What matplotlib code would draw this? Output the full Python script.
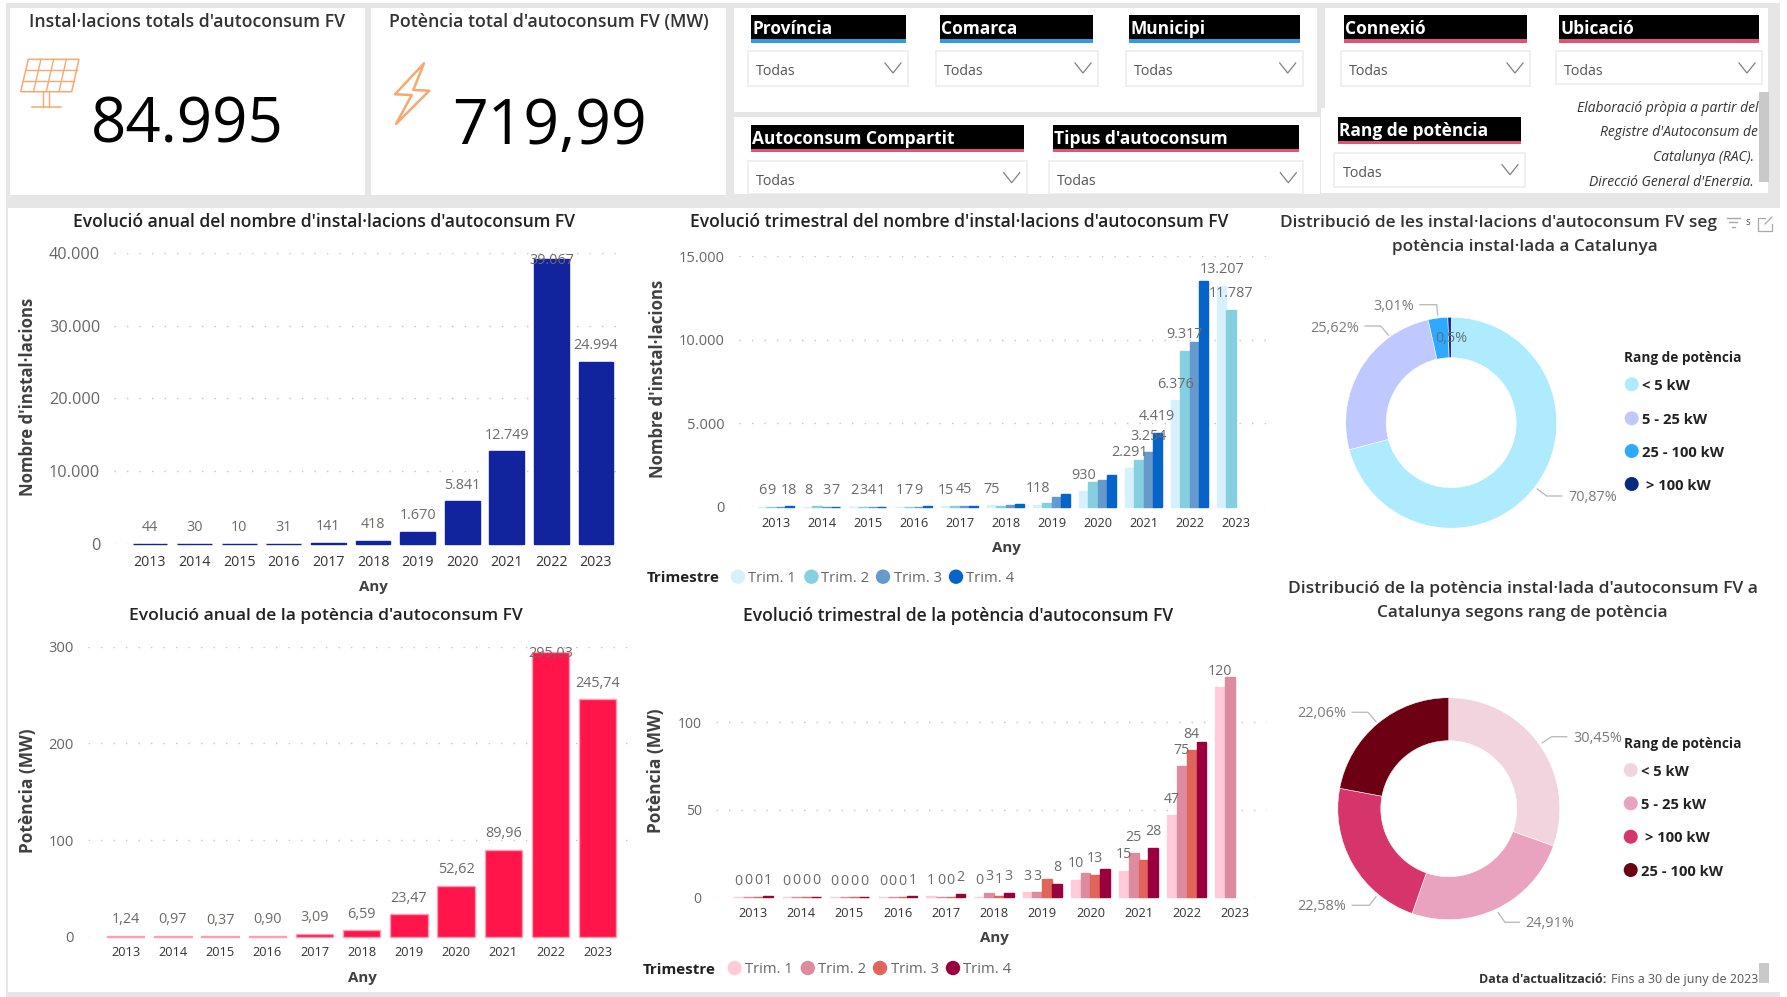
import matplotlib
matplotlib.use("Agg")
import matplotlib.pyplot as plt
import numpy as np
from matplotlib.patches import Rectangle, Circle, Polygon

plt.rcParams['font.family'] = ['Open Sans', 'DejaVu Sans']

W, H = 1787, 997

years = [2013, 2014, 2015, 2016, 2017, 2018, 2019, 2020, 2021, 2022, 2023]

# yearly totals
inst_anual = [44, 30, 10, 31, 141, 418, 1670, 5841, 12749, 39067, 24994]
pot_anual = [1.24, 0.97, 0.37, 0.90, 3.09, 6.59, 23.47, 52.62, 89.96, 295.03, 245.74]

# quarterly numbers, one list per quarter
inst_t1 = [6, 8, 2, 1, 15, 75, 118, 930, 2291, 6376, 13207]
inst_t2 = [9, 12, 3, 7, 36, 60, 230, 1450, 2785, 9317, 11787]
inst_t3 = [11, 3, 4, 9, 45, 113, 570, 1590, 3254, 9880, np.nan]
inst_t4 = [18, 7, 1, 14, 45, 170, 752, 1871, 4419, 13494, np.nan]
# Power BI drops the labels that collide
inst_show = [
    [1, 1, 1, 1, 1, 1, 1, 1, 1, 1, 1],
    [1, 0, 1, 1, 0, 0, 0, 0, 0, 1, 1],
    [0, 1, 1, 1, 1, 0, 0, 0, 1, 0, 0],
    [1, 1, 1, 0, 0, 0, 0, 0, 1, 0, 0],
]

pot_t1 = [0.1, 0.1, 0.1, 0.1, 0.6, 0.4, 2.8, 9.9, 15.3, 47, 120]
pot_t2 = [0.2, 0.2, 0.1, 0.1, 0.3, 2.6, 2.8, 13.9, 25.3, 75, 125.7]
pot_t3 = [0.2, 0.3, 0.1, 0.1, 0.2, 0.9, 10.2, 12.9, 21.1, 84, np.nan]
pot_t4 = [0.7, 0.4, 0.1, 0.6, 2.0, 2.7, 7.7, 15.9, 28.3, 89, np.nan]
pot_show = [
    [1, 1, 1, 1, 1, 1, 1, 1, 1, 1, 1],
    [1, 1, 1, 1, 1, 1, 1, 0, 1, 1, 0],
    [1, 1, 1, 1, 1, 1, 0, 1, 0, 1, 0],
    [1, 1, 1, 1, 1, 1, 1, 0, 1, 0, 0],
]

trimestres = ["Trim. 1", "Trim. 2", "Trim. 3", "Trim. 4"]

# donuts
rang_inst = ["< 5 kW", "5 - 25 kW", "25 - 100 kW", " > 100 kW"]
pct_inst = [70.87, 25.62, 3.01, 0.5]
rang_pot = ["< 5 kW", "5 - 25 kW", " > 100 kW", "25 - 100 kW"]
pct_pot = [30.45, 24.91, 22.58, 22.06]

total_inst = "84.995"
total_pot = "719,99"

BLUE_Q = ["#D6F1FC", "#86CFE0", "#6699CC", "#0563C9"]
RED_Q = ["#FFCBD9", "#DD8BA0", "#E1645A", "#99003D"]
BLUE_D = ["#AEEBFF", "#BFC9FF", "#2FA8FF", "#0A2A7F"]
RED_D = ["#F2D4DE", "#E9A3BF", "#D6356C", "#6E0014"]
GRAY = "#E6E6E6"
LABEL = "#6B6A68"
DARK = "#333333"

fig = plt.figure(figsize=(W / 100, H / 100), dpi=100, facecolor="white")
renderer = fig.canvas.get_renderer()

bg = fig.add_axes([0, 0, 1, 1])
bg.set_xlim(0, W)
bg.set_ylim(H, 0)
bg.axis("off")


def box(x0, y0, x1, y1, color="white", edge="none", lw=0, z=1):
    r = Rectangle((x0, y0), x1 - x0, y1 - y0, facecolor=color, edgecolor=edge, linewidth=lw, zorder=z)
    bg.add_patch(r)
    return r


def fit(t, width):
    # scale the font so the text takes the same width as in the picture
    ext = t.get_window_extent(renderer)
    t.set_fontsize(t.get_fontsize() * width / max(ext.width, ext.height))
    return t


def txt(x, y, s, width=None, size=10, color=DARK, ha="center", va="center", **kw):
    # Open Sans sits a bit high when centred
    t = bg.text(x, y + 1.5, s, fontsize=size, color=color, ha=ha, va=va, zorder=5, **kw)
    if width:
        fit(t, width)
    return t


def px_axes(left, right, top, bottom):
    ax = fig.add_axes([left / W, 1 - bottom / H, (right - left) / W, (bottom - top) / H])
    ax.patch.set_alpha(0)
    for s in ax.spines.values():
        s.set_visible(False)
    return ax


def label_y(ax, v, top_px_margin):
    # label sits 16 px over the bar, but stays inside the plot at the top
    y0, y1 = ax.get_ylim()
    h = ax.get_position().height * H
    unit = (y1 - y0) / h
    return min(v + 16 * unit, y1 - top_px_margin * unit)


def setup_axis(ax, x0, dx, left, right, ymax, yticks, ylabels, ysize, xsize, xpad):
    ax.set_xlim((left - x0) / dx, (right - x0) / dx)
    ax.set_ylim(0, ymax)
    ax.set_yticks(yticks)
    ax.set_yticklabels(ylabels, fontsize=ysize, color="#666666")
    ax.set_xticks(range(len(years)))
    ax.set_xticklabels(years, fontsize=xsize, color=DARK)
    ax.tick_params(axis="both", length=0)
    ax.tick_params(axis="y", pad=10)
    ax.tick_params(axis="x", pad=xpad)
    ax.grid(axis="y", color="#C4C4C4", linewidth=1, linestyle=(0, (1, 8)))
    ax.set_axisbelow(True)


def thousands(v):
    return f"{int(v):,}".replace(",", ".")


def decimals(v):
    return f"{v:.2f}".replace(".", ",")


def chart_anual(ax, vals, color, edge, fmt, width, size, margin):
    ax.bar(range(len(vals)), vals, width=width, color=color, edgecolor=edge, linewidth=1, clip_on=False)
    for i, v in enumerate(vals):
        ax.text(i, label_y(ax, v, margin), fmt(v), fontsize=size, color=LABEL, ha="center", va="center")


def chart_trim(ax, series, show, colors, fmt, width, size):
    for q, vals in enumerate(series):
        xs = np.arange(len(vals)) + (q - 1.5) * width
        ax.bar(xs, vals, width=width, color=colors[q], edgecolor=colors[q], linewidth=1, clip_on=False)
        for i, v in enumerate(vals):
            if show[q][i] and not np.isnan(v):
                ax.text(xs[i], label_y(ax, v, -60), fmt(v), fontsize=size, color=LABEL, ha="center", va="center")


def legend_trim(y, x_title, xm, xt, colors):
    txt(x_title, y, "Trimestre", width=73, color="#222222", ha="left", fontweight="bold")
    for m, t, c, s in zip(xm, xt, colors, trimestres):
        bg.add_patch(Circle((m, y), 7.2, facecolor=c, edgecolor="none", zorder=4))
        txt(t, y, s, width=48, color="#666666", ha="left")


def slicer(x0, x1, y0, y1, name, line, bx0, bx1, by0, by1):
    box(x0, y0, x1, y1, color="black", z=2)
    box(x0, y1 - 3.2, x1, y1, color=line, z=3)
    txt(x0 + 1, (y0 + y1) / 2 - 1, name, size=12.5, color="white", ha="left", fontweight="bold")
    box(bx0, by0, bx1, by1, color="white", edge="#EFEFEF", lw=1.3, z=2)
    ym = by0 + 19
    txt(bx0 + 8, ym, "Todas", size=10.3, color="#555555", ha="left")
    bg.plot([bx1 - 23, bx1 - 15, bx1 - 7], [ym - 7, ym + 3, ym - 7], color="#808080", lw=0.9, zorder=4)


# panels
box(6, 3, 1780, 997, color=GRAY, z=0)
box(10, 8, 364.5, 195)
box(371, 8, 726, 195)
box(734, 8, 1317.4, 112)
box(734, 117, 1320, 194)
box(1325.3, 8, 1768, 193)
box(1321.4, 108, 1768, 193)
box(8, 208, 1780, 992)

# kpi cards
txt(187, 20.5, "Instal·lacions totals d'autoconsum FV", width=314, size=13, color="#333333", fontweight="semibold")
txt(549, 20.5, "Potència total d'autoconsum FV (MW)", width=320, size=13, color="#333333", fontweight="semibold")
txt(187, 125, total_inst, width=193, size=44, color="black")
txt(549.5, 126, total_pot, width=195, size=44, color="black")

ORANGE = "#F7A872"
tl, tr, br, bl = np.array([28.3, 59.3]), np.array([79, 59.3]), np.array([71.7, 91.7]), np.array([20.7, 91.7])
bg.add_patch(Polygon([tl, tr, br, bl], closed=True, fill=False, edgecolor=ORANGE, lw=1.1, zorder=3))
for f in (0.25, 0.5, 0.75):
    a, b = tl + (tr - tl) * f, bl + (br - bl) * f
    bg.plot([a[0], b[0]], [a[1], b[1]], color=ORANGE, lw=1, zorder=3)
for f in (1 / 3, 2 / 3):
    a, b = tl + (bl - tl) * f, tr + (br - tr) * f
    bg.plot([a[0], b[0]], [a[1], b[1]], color=ORANGE, lw=1, zorder=3)
bg.plot([43.3, 43.3], [91.7, 107.3], color=ORANGE, lw=1, zorder=3)
bg.plot([49.3, 49.3], [91.7, 107.3], color=ORANGE, lw=1, zorder=3)
bg.plot([31.7, 60.7], [107.3, 107.3], color=ORANGE, lw=1.1, zorder=3)
bolt = [(424, 63.3), (395, 94.3), (411.7, 95), (396, 124), (429.3, 90.7), (413.3, 90)]
bg.add_patch(Polygon(bolt, closed=True, fill=False, edgecolor=ORANGE, lw=1.8, joinstyle="round", zorder=3))

# slicers
BL, PK = "#2F9BE0", "#E0527A"
slicer(751, 906, 15, 42.7, "Província", BL, 748, 908, 51, 85.7)
slicer(939.6, 1093.4, 15, 42.7, "Comarca", BL, 935.6, 1098, 51, 85.7)
slicer(1129, 1300, 15, 42.7, "Municipi", BL, 1126, 1302.7, 51, 85.7)
slicer(1344, 1526.7, 15, 42.7, "Connexió", PK, 1340.6, 1530, 51, 85.7)
slicer(1559, 1758.6, 15, 42.7, "Ubicació", PK, 1556, 1762, 51, 84)
slicer(751, 1024, 125, 152, "Autoconsum Compartit", PK, 748, 1026.7, 160.7, 194)
slicer(1052.7, 1298.7, 125, 152, "Tipus d'autoconsum", PK, 1048.8, 1303.3, 160.7, 194)
slicer(1338.4, 1521, 117, 144, "Rang de potència", PK, 1334.4, 1525, 152.7, 187)
box(734, 194, 1323, 197, color=GRAY, z=3)

note = ["Elaboració pròpia a partir del", "Registre d'Autoconsum de", "Catalunya (RAC).", "Direcció General d'Energia."]
note_clip = Rectangle((1540, 90), 225, 96.5, transform=bg.transData)
for s, y, x in zip(note, [107.5, 131.5, 156, 181.2], [1758.6, 1758, 1754, 1754]):
    t = txt(x, y, s, size=10, color="#333333", ha="right", fontstyle="italic")
    t.set_clip_path(note_clip)
    t.set_clip_on(True)
box(1758.6, 92, 1768.7, 182, color="#C9C9C9", z=6)

# titles and axis names of the bar charts
txt(324, 220.7, "Evolució anual del nombre d'instal·lacions d'autoconsum FV", width=503, size=13, color="#222222", fontweight="semibold")
txt(959, 220.7, "Evolució trimestral del nombre d'instal·lacions d'autoconsum FV", width=540, size=13, color="#222222", fontweight="semibold")
txt(326, 614, "Evolució anual de la potència d'autoconsum FV", width=394, size=13, color="#222222", fontweight="semibold")
txt(958, 614, "Evolució trimestral de la potència d'autoconsum FV", width=431, size=13, color="#222222", fontweight="semibold")

YL = "#404040"
txt(28.5, 395, "Nombre d'instal·lacions", width=198, color=YL, rotation=90, fontweight="bold")
txt(658, 377, "Nombre d'instal·lacions", width=198, color=YL, rotation=90, fontweight="bold")
txt(28.5, 789.5, "Potència (MW)", width=125, color=YL, rotation=90, fontweight="bold")
txt(656, 769.5, "Potència (MW)", width=125, color=YL, rotation=90, fontweight="bold")
txt(373.5, 585.7, "Any", width=29, color=YL, fontweight="bold")
txt(1006, 546.7, "Any", width=29, color=YL, fontweight="bold")
txt(362, 976.7, "Any", width=29, color=YL, fontweight="bold")
txt(994, 936.7, "Any", width=29, color=YL, fontweight="bold")

# annual installations
ax1 = px_axes(114, 626, 252.7, 544)
setup_axis(ax1, 150, 44.6, 114, 626, 40000, [0, 10000, 20000, 30000, 40000],
           ["0", "10.000", "20.000", "30.000", "40.000"], 11.7, 10.2, 8)
chart_anual(ax1, inst_anual, "#12239E", "#12239E", thousands, 0.78, 10.4, 8)

# quarterly installations
ax2 = px_axes(738.8, 1266.5, 256, 506.7)
setup_axis(ax2, 775.5, 46, 738.8, 1266.5, 15000, [0, 5000, 10000, 15000],
           ["0", "5.000", "10.000", "15.000"], 10.5, 9.2, 7.5)
chart_trim(ax2, [inst_t1, inst_t2, inst_t3, inst_t4], inst_show, BLUE_Q, thousands, 0.196, 10.4)
legend_trim(576.7, 647, [738, 811.4, 883, 956], [748, 821, 894, 966.5], BLUE_Q)

# annual power
ax3 = px_axes(87.8, 630.6, 646.7, 936.7)
setup_axis(ax3, 125.7, 47.2, 87.8, 630.6, 300, [0, 100, 200, 300],
           ["0", "100", "200", "300"], 10.6, 9.2, 7)
chart_anual(ax3, pot_anual, "#FF1549", "#FF9DB3", decimals, 0.79, 10.4, 6.5)

# quarterly power
ax4 = px_axes(715.5, 1266.5, 640, 897.3)
setup_axis(ax4, 753, 48.2, 715.5, 1266.5, 257.3 / 1.75, [0, 50, 100],
           ["0", "50", "100"], 10, 9.2, 7)
chart_trim(ax4, [pot_t1, pot_t2, pot_t3, pot_t4], pot_show, RED_Q, lambda v: f"{v:.0f}", 0.203, 10.2)
legend_trim(968, 643, [734.7, 807.8, 880, 953], [745, 817.5, 890.6, 963], RED_Q)


def donut(cx, cy, r, rin, vals, colors):
    ax = px_axes(cx - r, cx + r, cy - r, cy + r)
    ax.pie(vals, colors=colors, startangle=90, counterclock=False, radius=1,
           wedgeprops=dict(width=1 - rin / r, edgecolor="white", linewidth=0.4))
    ax.set_xlim(-1, 1)
    ax.set_ylim(-1, 1)
    return ax


def leader(points, s, x, y, width=49):
    xs, ys = zip(*points)
    bg.plot(xs, ys, color="#BDBDBD", lw=1, zorder=4)
    txt(x, y, s, width=width, color="#7A7A7A")


def pct(v):
    return f"{v:.2f}".replace(".", ",") + "%"


def legend_rang(title_x, title_y, mx, tx, ys, names, colors):
    txt(title_x, title_y, "Rang de potència", width=117, color="#222222", ha="left", fontweight="bold")
    for y, n, c in zip(ys, names, colors):
        bg.add_patch(Circle((mx, y), 7, facecolor=c, edgecolor="none", zorder=4))
        t = txt(tx, y, n.strip(), size=10.6, color="#222222", ha="left", fontweight="bold")
        if n.startswith(" "):
            t.set_x(tx + 4)


# donut installations
ax5 = donut(1451.2, 422.7, 105.5, 65, pct_inst, BLUE_D)
txt(1280, 221.7, "Distribució de les instal·lacions d'autoconsum FV seg", width=438, size=12, color="#333333", ha="left", fontweight="semibold")
txt(1525.3, 245, "potència instal·lada a Catalunya", width=267, size=12, color="#333333", fontweight="semibold")
txt(1748, 221, "s", size=7, color="#555555")
for y, a, b in [(218, 1726.7, 1740), (222, 1729, 1737), (227, 1731.5, 1734.5)]:
    bg.plot([a, b], [y, y], color="#A8A8A8", lw=1, zorder=5)
bg.plot([1765, 1758, 1758, 1772, 1772], [218, 218, 231, 231, 224], color="#A8A8A8", lw=0.9, zorder=5)
bg.plot([1765, 1772], [224, 217], color="#A8A8A8", lw=0.9, zorder=5)

leader([(1537.3, 489), (1546.7, 496), (1561.7, 496)], pct(pct_inst[0]), 1592.7, 495.5)
leader([(1365, 326), (1380.7, 326), (1388.3, 335)], pct(pct_inst[1]), 1335, 326.5)
leader([(1420, 304.7), (1436.7, 304.7), (1437.7, 315)], pct(pct_inst[2]), 1393.3, 304.5, width=41)
ax5.text(0, 0.8, "0,5%", fontsize=10.4, color="#5F6F78", ha="center", va="center")
legend_rang(1624, 356.7, 1631.7, 1641.7, [384.3, 418.3, 451, 484], rang_inst, BLUE_D)

# donut power
donut(1448.8, 808.7, 111, 68, pct_pot, RED_D)
txt(1522.8, 587, "Distribució de la potència instal·lada d'autoconsum FV a", width=471, size=12, color="#333333", fontweight="semibold")
txt(1522.8, 611.7, "Catalunya segons rang de potència", width=291, size=12, color="#333333", fontweight="semibold")
leader([(1542.3, 742.7), (1551.7, 736.7), (1566.7, 736.7)], pct(pct_pot[0]), 1598.3, 736.5)
leader([(1498.3, 912.7), (1505, 922.3), (1519.3, 922.3)], pct(pct_pot[1]), 1550, 921.5)
leader([(1376, 896.7), (1369.3, 905.3), (1352.3, 905.3)], pct(pct_pot[2]), 1321.7, 904.5)
leader([(1352.3, 712.3), (1368, 712.3), (1376, 721.7)], pct(pct_pot[3]), 1321.7, 712.2)
legend_rang(1623.7, 742.7, 1630.7, 1641, [770, 803.3, 836.7, 870], rang_pot, RED_D)

# footer
t1 = txt(1479.3, 978, "Data d'actualització:", size=9, color="#333333", ha="left", fontweight="bold")
end = bg.transData.inverted().transform(t1.get_window_extent(renderer))[1][0]
t2 = txt(end + 4, 978, "Fins a 30 de juny de 2023", size=9, color="#555555", ha="left")
box(1759, 962.7, 1769, 983, color="#C9C9C9", z=6)

fig.savefig("out.png", dpi=100, facecolor="white")
